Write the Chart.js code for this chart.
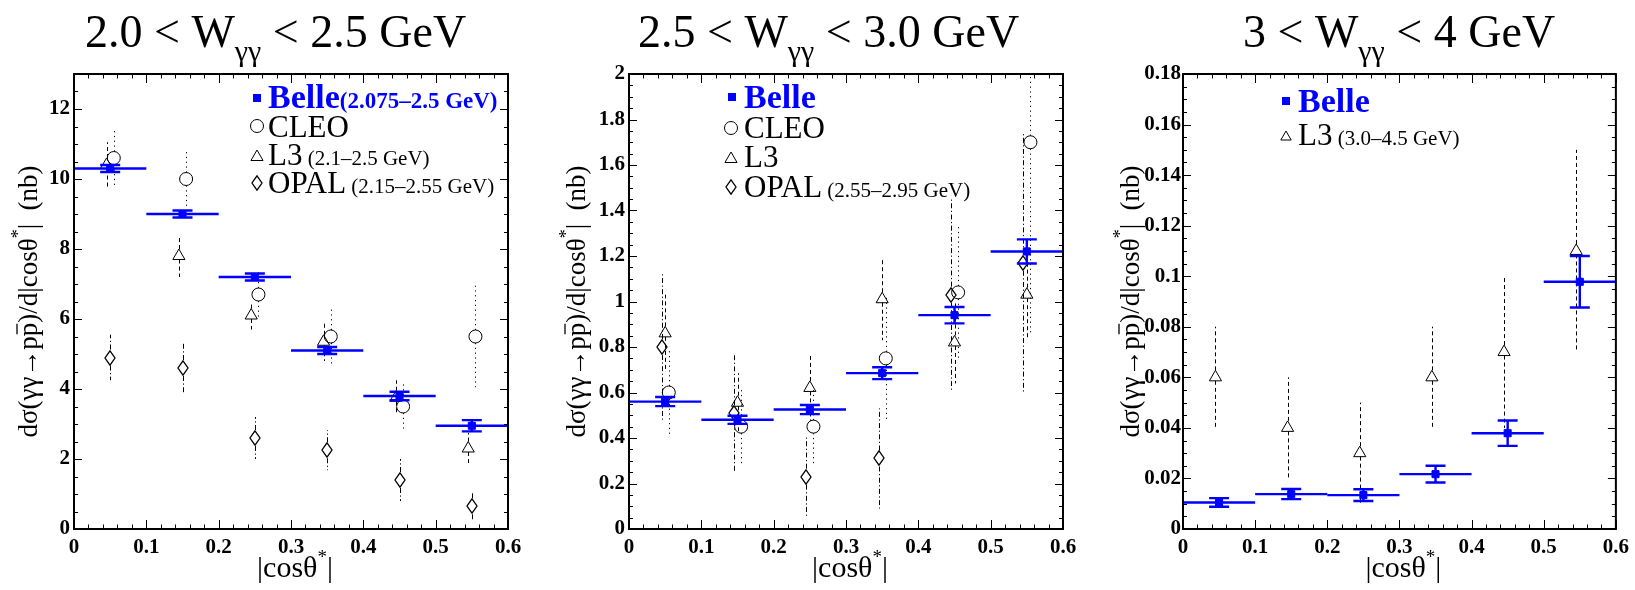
<!DOCTYPE html>
<html>
<head>
<meta charset="utf-8">
<script src="https://cdn.jsdelivr.net/npm/chart.js@4/dist/chart.umd.min.js"></script>
<style>
  html, body { margin: 0; padding: 0; background: #fff; }
  #wrap { position: relative; width: 1635px; height: 590px; overflow: hidden; background: #fff; }
  #wrap canvas { position: absolute; top: 0; }
</style>
</head>
<body>
<div id="wrap">
  <canvas id="c1" width="545" height="590" style="left:0px"></canvas>
  <canvas id="c2" width="545" height="590" style="left:545px"></canvas>
  <canvas id="c3" width="545" height="590" style="left:1090px"></canvas>
</div>
<script>
// ---- data ----
const binCenters = [0.05, 0.15, 0.25, 0.35, 0.45, 0.55];
const binHalf = 0.05;
const xTicks = [0, 0.1, 0.2, 0.3, 0.4, 0.5, 0.6];

// 2.0 < W < 2.5 GeV
const belle1 = [10.3, 9.0, 7.2, 5.1, 3.8, 2.95];
const belle1Err = [0.1, 0.1, 0.1, 0.1, 0.12, 0.16];
const cleo1 = [10.6, 10.0, 6.7, 5.5, 3.5, 5.5];
const cleo1Err = [0.8, 0.8, 0.7, 0.8, 0.7, 1.45];
const l3_1 = [10.4, 7.8, 6.1, 5.35, 3.75, 2.3];
const l3_1Err = [0.65, 0.6, 0.4, 0.55, 0.5, 0.45];
const opal1 = [4.9, 4.6, 2.6, 2.25, 1.4, 0.65];
const opal1Err = [0.65, 0.7, 0.6, 0.57, 0.6, 0.38];

// 2.5 < W < 3.0 GeV
const belle2 = [0.56, 0.48, 0.525, 0.685, 0.94, 1.22];
const belle2Err = [0.02, 0.018, 0.02, 0.026, 0.036, 0.053];
const cleo2 = [0.6, 0.45, 0.45, 0.75, 1.04, 1.7];
const cleo2Err = [0.19, 0.165, 0.175, 0.28, 0.29, 0.85];
const l3_2 = [0.86, 0.555, 0.62, 1.01, 0.82, 1.03];
const l3_2Err = [0.17, 0.13, 0.145, 0.18, 0.18, 0.2];
const opal2 = [0.8, 0.51, 0.23, 0.31, 1.03, 1.17];
const opal2Err = [0.33, 0.26, 0.175, 0.22, 0.42, 0.57];

// 3 < W < 4 GeV
const belle3 = [0.0105, 0.0138, 0.0134, 0.0217, 0.0379, 0.0978];
const belle3Err = [0.0017, 0.002, 0.0023, 0.0033, 0.005, 0.0102];
const l3_3 = [0.06, 0.04, 0.03, 0.06, 0.07, 0.11];
const l3_3Err = [0.02, 0.02, 0.02, 0.02, 0.03, 0.04];

// ---- look ----
const W = 545, H = 590, TOP = 74, BOTTOM = 529;
const SERIF = '"Liberation Serif", "Times New Roman", Times, serif';
const f = (size, bold) => `${bold ? 'bold ' : ''}${size}px ${SERIF}`;
const BLUE = '#0000ff';
const fmt = (v) => String(+(+v).toFixed(4));

function diamondImg() {                      // tall open diamond (OPAL)
  const c = document.createElement('canvas'); c.width = 12; c.height = 16;
  const g = c.getContext('2d'); g.strokeStyle = '#000'; g.lineWidth = 1.3;
  g.beginPath(); g.moveTo(6, 0.8); g.lineTo(11, 8); g.lineTo(6, 15.2); g.lineTo(1, 8); g.closePath(); g.stroke();
  return c;
}
const DIAMOND = diamondImg();

// marker + error-bar style per experiment
const KIND = {
  cleo: { pointStyle: 'circle', radius: 6.5, dash: [1.2, 3.6], gapUp: 6.5, gapDn: 6.5 },
  l3:   { pointStyle: 'triangle', radius: 7, dash: [4, 3], gapUp: 7, gapDn: 3.5 },
  opal: { pointStyle: DIAMOND, radius: 8, dash: [5, 2.5, 1.2, 2.5], gapUp: 8, gapDn: 8 },
};

const panels = [
  {
    id: 'c1', off: 0, left: 74, right: 508, yMax: 13, yStep: 2, yMinor: 0.5, labPad: 4,
    belle: belle1, belleErr: belle1Err,
    others: [
      { kind: 'l3', vals: l3_1, errs: l3_1Err, dx: -0.005 },
      { kind: 'opal', vals: opal1, errs: opal1Err, dx: 0 },
      { kind: 'cleo', vals: cleo1, errs: cleo1Err, dx: 0.005 },
    ],
    title: { x: 85, parts: ['2.0 < W', 'γγ', ' < 2.5 GeV'] },
    yTitleX: 37,
    legend: [
      { m: 'belle', mx: 257, my: 98, x: 268, y: 108, parts: [{ t: 'Belle', font: f(34, true), color: BLUE }, { t: '(2.075–2.5 GeV)', font: f(23, true), color: BLUE }] },
      { m: 'cleo', mx: 257, my: 126, x: 268, y: 137, parts: [{ t: 'CLEO', font: f(31) }] },
      { m: 'l3', mx: 257, my: 157, x: 268, y: 165, parts: [{ t: 'L3', font: f(31) }, { t: ' (2.1–2.5 GeV)', font: f(21) }] },
      { m: 'opal', mx: 257, my: 183, x: 268, y: 193, parts: [{ t: 'OPAL', font: f(31) }, { t: ' (2.15–2.55 GeV)', font: f(21) }] },
    ],
  },
  {
    id: 'c2', off: 545, left: 84, right: 518, yMax: 2, yStep: 0.2, yMinor: 0.05, labPad: 4,
    belle: belle2, belleErr: belle2Err,
    others: [
      { kind: 'opal', vals: opal2, errs: opal2Err, dx: -0.005 },
      { kind: 'l3', vals: l3_2, errs: l3_2Err, dx: 0 },
      { kind: 'cleo', vals: cleo2, errs: cleo2Err, dx: 0.005 },
    ],
    title: { x: 638, parts: ['2.5 < W', 'γγ', ' < 3.0 GeV'] },
    yTitleX: 585,
    legend: [
      { m: 'belle', mx: 732, my: 97, x: 744, y: 108, parts: [{ t: 'Belle', font: f(34, true), color: BLUE }] },
      { m: 'cleo', mx: 731, my: 128, x: 744, y: 138, parts: [{ t: 'CLEO', font: f(31) }] },
      { m: 'l3', mx: 731, my: 159, x: 744, y: 167, parts: [{ t: 'L3', font: f(31) }] },
      { m: 'opal', mx: 731, my: 187, x: 744, y: 197, parts: [{ t: 'OPAL', font: f(31) }, { t: ' (2.55–2.95 GeV)', font: f(21) }] },
    ],
  },
  {
    id: 'c3', off: 1090, left: 93, right: 527, yMax: 0.18, yStep: 0.02, yMinor: 0.005, labPad: 2,
    belle: belle3, belleErr: belle3Err,
    others: [
      { kind: 'l3', vals: l3_3, errs: l3_3Err, dx: -0.005 },
    ],
    title: { x: 1243, parts: ['3 < W', 'γγ', ' < 4 GeV'] },
    yTitleX: 1139,
    legend: [
      { m: 'belle', mx: 1286, my: 101, x: 1298, y: 112, parts: [{ t: 'Belle', font: f(34, true), color: BLUE }] },
      { m: 'l3s', mx: 1286, my: 137, x: 1298, y: 145, parts: [{ t: 'L3', font: f(31) }, { t: ' (3.0–4.5 GeV)', font: f(21) }] },
    ],
  },
];

// ---- rich text helpers ----
function richWidth(ctx, parts) {
  let w = 0;
  parts.forEach((p) => { ctx.font = p.font; w += ctx.measureText(p.t).width; });
  return w;
}
function drawRich(ctx, parts, x, y, center) {
  let cx = center ? x - richWidth(ctx, parts) / 2 : x;
  ctx.textAlign = 'left'; ctx.textBaseline = 'alphabetic';
  parts.forEach((p) => {
    ctx.font = p.font; ctx.fillStyle = p.color || '#000';
    const w = ctx.measureText(p.t).width;
    ctx.fillText(p.t, cx, y + (p.dy || 0));
    if (p.bar) {                                   // overline (antiproton)
      ctx.save(); ctx.strokeStyle = p.color || '#000'; ctx.lineWidth = 1.3;
      ctx.beginPath(); ctx.moveTo(cx + 2, y - p.bar); ctx.lineTo(cx + w - 1, y - p.bar); ctx.stroke(); ctx.restore();
    }
    cx += w;
  });
}

function glyph(ctx, m, x, y) {
  ctx.save(); ctx.lineWidth = 1; ctx.strokeStyle = '#000'; ctx.setLineDash([]);
  ctx.beginPath();
  if (m === 'belle') { ctx.fillStyle = BLUE; ctx.fillRect(x - 4, y - 4, 8, 8); }
  else if (m === 'cleo') { ctx.arc(x, y, 6.5, 0, Math.PI * 2); ctx.stroke(); }
  else if (m === 'l3' || m === 'l3s') {
    const r = m === 'l3' ? 7 : 6;
    ctx.moveTo(x, y - r); ctx.lineTo(x + r * 0.866, y + r / 2); ctx.lineTo(x - r * 0.866, y + r / 2); ctx.closePath(); ctx.stroke();
  } else if (m === 'opal') { ctx.drawImage(DIAMOND, Math.round(x - 6), Math.round(y - 8)); }
  ctx.restore();
}

// ---- per-panel drawing plugin: error bars, frame + ROOT-style ticks, titles, legend ----
function hepPlugin(p) {
  return {
    id: 'hep' + p.id,
    beforeDatasetsDraw(chart) {
      const { ctx, chartArea: a, scales: { x, y } } = chart;
      ctx.save();
      ctx.beginPath(); ctx.rect(a.left, a.top, a.right - a.left, a.bottom - a.top); ctx.clip();
      ctx.strokeStyle = '#000'; ctx.lineWidth = 1;
      p.others.forEach((s) => {
        const k = KIND[s.kind];
        ctx.setLineDash(k.dash);
        s.vals.forEach((v, i) => {
          const px = Math.round(x.getPixelForValue(binCenters[i] + s.dx)) + 0.5;
          const py = y.getPixelForValue(v);
          const hi = y.getPixelForValue(v + s.errs[i]), lo = y.getPixelForValue(v - s.errs[i]);
          ctx.beginPath();
          if (py - hi > k.gapUp) { ctx.moveTo(px, py - k.gapUp); ctx.lineTo(px, hi); }
          if (lo - py > k.gapDn) { ctx.moveTo(px, py + k.gapDn); ctx.lineTo(px, lo); }
          ctx.stroke();
        });
      });
      ctx.restore();
      ctx.imageSmoothingEnabled = false;           // keep the diamond markers crisp
    },
    afterDatasetsDraw(chart) {
      const { ctx, chartArea: a, scales: { x, y } } = chart;
      ctx.imageSmoothingEnabled = true;
      ctx.save();
      ctx.beginPath(); ctx.rect(a.left, a.top, a.right - a.left, a.bottom - a.top); ctx.clip();
      ctx.strokeStyle = BLUE; ctx.lineWidth = 2.4;
      p.belle.forEach((v, i) => {
        const c = binCenters[i], e = p.belleErr[i];
        const px = x.getPixelForValue(c), py = y.getPixelForValue(v);
        const hi = y.getPixelForValue(v + e), lo = y.getPixelForValue(v - e);
        ctx.beginPath();
        ctx.moveTo(x.getPixelForValue(c - binHalf), py); ctx.lineTo(x.getPixelForValue(c + binHalf), py);
        ctx.moveTo(px, hi); ctx.lineTo(px, lo);
        ctx.moveTo(px - 10, hi); ctx.lineTo(px + 10, hi);
        ctx.moveTo(px - 10, lo); ctx.lineTo(px + 10, lo);
        ctx.stroke();
      });
      ctx.restore();
    },
    afterDraw(chart) {
      const { ctx, chartArea: a, scales: { x, y } } = chart;
      ctx.save();
      ctx.strokeStyle = '#000'; ctx.lineWidth = 1; ctx.setLineDash([]);
      ctx.beginPath();
      for (let k = 0; k <= 30; k++) {                         // x: major 0.1, minor 0.02
        const px = Math.round(x.getPixelForValue(k * 0.02)) + 0.5, len = k % 5 === 0 ? 9 : 4.5;
        ctx.moveTo(px, a.bottom); ctx.lineTo(px, a.bottom - len);
        ctx.moveTo(px, a.top); ctx.lineTo(px, a.top + len);
      }
      const nMin = Math.round(p.yMax / p.yMinor), per = Math.round(p.yStep / p.yMinor);
      for (let k = 0; k <= nMin; k++) {
        const py = Math.round(y.getPixelForValue(k * p.yMinor)) + 0.5, len = k % per === 0 ? 8 : 4;
        ctx.moveTo(a.left, py); ctx.lineTo(a.left + len, py);
        ctx.moveTo(a.right, py); ctx.lineTo(a.right - len, py);
      }
      ctx.stroke();
      ctx.lineWidth = 2;
      ctx.strokeRect(a.left, a.top, a.right - a.left, a.bottom - a.top);

      // panel title
      const tp = p.title.parts;
      drawRich(ctx, [{ t: tp[0], font: f(46) }, { t: tp[1], font: f(30), dy: 14 }, { t: tp[2], font: f(46) }], p.title.x - p.off, 47);

      // x axis title
      drawRich(ctx, [{ t: '|cosθ', font: f(30) }, { t: '*', font: f(19), dy: -14 }, { t: '|', font: f(30) }], (a.left + a.right) / 2 + 4, 577, true);

      // y axis title (rotated)
      ctx.save();
      ctx.translate(p.yTitleX - p.off, (a.top + a.bottom) / 2);
      ctx.rotate(-Math.PI / 2);
      drawRich(ctx, [
        { t: 'dσ(γγ→p', font: f(27) }, { t: 'p', font: f(27), bar: 20 }, { t: ')/d|cosθ', font: f(27) },
        { t: '*', font: f(18), dy: -13 }, { t: '|  (nb)', font: f(27) },
      ], 0, 0, true);
      ctx.restore();

      // legend
      p.legend.forEach((r) => {
        glyph(ctx, r.m, r.mx - p.off, r.my);
        drawRich(ctx, r.parts, r.x - p.off, r.y);
      });
      ctx.restore();
    },
  };
}

function makeChart(p) {
  const datasets = [{
    data: p.belle.map((v, i) => ({ x: binCenters[i], y: v })),
    pointStyle: 'rect', pointRadius: 5, backgroundColor: BLUE, borderColor: BLUE, borderWidth: 1, order: 0,
  }];
  p.others.forEach((s, j) => {
    const k = KIND[s.kind];
    datasets.push({
      data: s.vals.map((v, i) => ({ x: binCenters[i] + s.dx, y: v })),
      pointStyle: k.pointStyle, pointRadius: k.radius,
      backgroundColor: 'rgba(0,0,0,0)', borderColor: '#000', borderWidth: 1, order: j + 1,
    });
  });
  const tickFont = { family: SERIF, size: 21, weight: 'bold' };
  return new Chart(document.getElementById(p.id), {
    type: 'scatter',
    data: { datasets },
    options: {
      responsive: false, animation: false, events: [],
      layout: { padding: { left: 0, top: TOP, right: W - p.right, bottom: 0 } },
      plugins: { legend: { display: false }, tooltip: { enabled: false }, title: { display: false } },
      scales: {
        x: {
          type: 'linear', min: xTicks[0], max: xTicks[xTicks.length - 1],
          afterFit: (s) => { s.height = H - BOTTOM; },
          afterBuildTicks: (s) => { s.ticks = xTicks.map((v) => ({ value: v })); },
          grid: { display: false, drawTicks: false }, border: { display: false },
          ticks: { autoSkip: false, maxRotation: 0, padding: 6, color: '#000', font: tickFont, callback: fmt },
        },
        y: {
          type: 'linear', min: 0, max: p.yMax,
          afterFit: (s) => { s.width = p.left; },
          grid: { display: false, drawTicks: false }, border: { display: false },
          ticks: { stepSize: p.yStep, includeBounds: false, autoSkip: false, padding: p.labPad, color: '#000', font: tickFont, callback: fmt },
        },
      },
    },
    plugins: [hepPlugin(p)],
  });
}

panels.forEach(makeChart);
</script>
</body>
</html>
